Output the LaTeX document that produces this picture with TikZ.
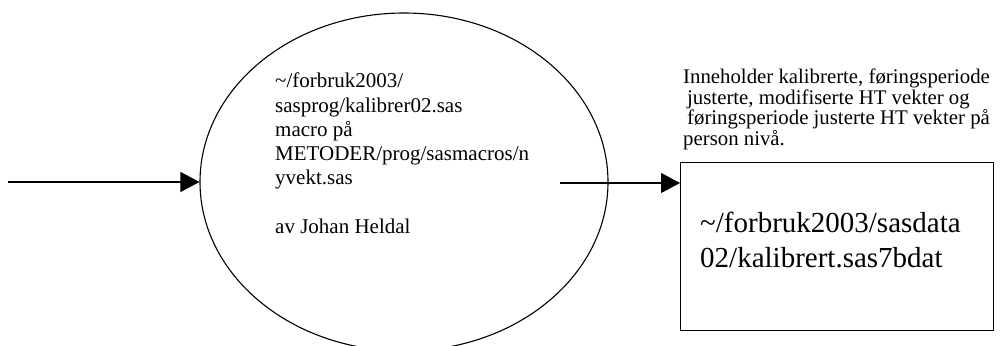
\documentclass[tikz,border=0pt]{standalone}
\usepackage{fontspec}
\setmainfont{Liberation Serif}
\usetikzlibrary{shapes.geometric,arrows.meta}
\begin{document}
\begin{tikzpicture}[x=1pt,y=-1pt,
  stroke/.style={line width=1.1pt},
  flow/.style={stroke, -{Triangle[length=19pt,width=20pt]}},
  txt/.style={inner sep=0pt, anchor=north west, align=left}]
\useasboundingbox (0,0) rectangle (1000,345);
% process ellipse
\node[ellipse, draw, stroke, minimum width=408pt, minimum height=338pt, inner sep=0pt] (proc) at (404,182) {};
\node[txt, font=\fontsize{21}{24.2}\selectfont] (proctext) at (275,73)
  {\textasciitilde/forbruk2003/\\
   sasprog/kalibrer02.sas\\
   macro på\\
   METODER/prog/sasmacros/n\\
   yvekt.sas\\[24.2pt]
   av Johan Heldal};
% data store box
\node[draw, stroke, anchor=north west, inner sep=0pt, minimum width=313pt, minimum height=168pt] (store) at (680,162) {};
\node[txt, font=\fontsize{29}{35}\selectfont] (storetext) at (700,212)
  {\textasciitilde/forbruk2003/sasdata\\
   02/kalibrert.sas7bdat};
% description above box
\node[txt, font=\fontsize{20.8}{20.8}\selectfont] (desc) at (683,68.5)
  {Inneholder kalibrerte, føringsperiode\\
   \hspace{4pt}justerte, modifiserte HT vekter og\\
   \hspace{4pt}føringsperiode justerte HT vekter på\\
   person nivå.};
% connectors
\coordinate (src) at (8,182);
\coordinate (mid) at (560,183);
\draw[flow] (src) -- (proc.west);
\draw[flow] (mid) -- (mid -| store.west);
\end{tikzpicture}
\end{document}
